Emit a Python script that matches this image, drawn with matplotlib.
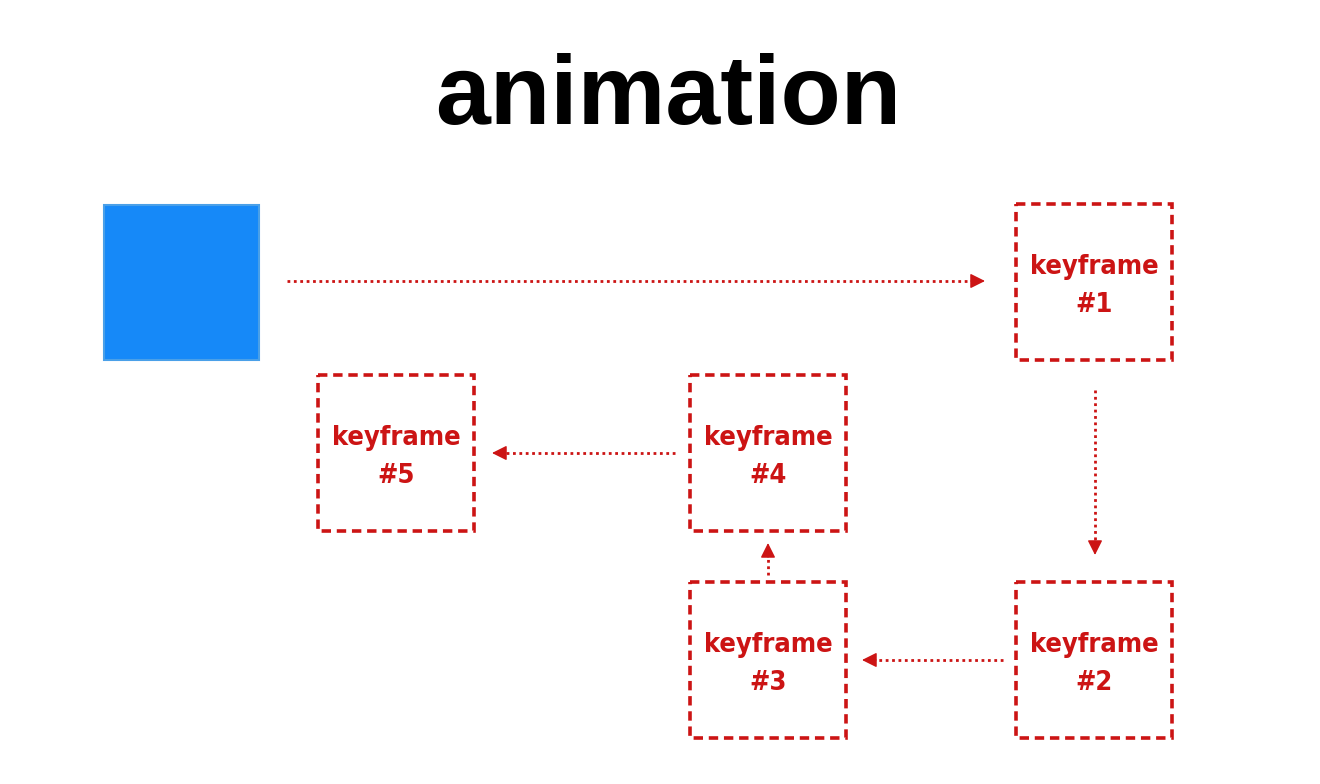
import numpy as np
import matplotlib.pyplot as plt
from matplotlib.patches import Rectangle

# keyframe boxes: label, left, top (pixels), all 156 px square
kf_labels = ['keyframe\n#1', 'keyframe\n#2', 'keyframe\n#3', 'keyframe\n#4', 'keyframe\n#5']
kf_left = [1016, 1016, 690, 690, 318]
kf_top = [204, 582, 582, 375, 375]
box_size = 156

# blue square
sq_left, sq_top, sq_size = 104, 205, 155

# arrows: (x0, y0) -> (x1, y1)
arrow_start = [(287, 281), (1095, 390), (1003, 660), (768, 575), (675, 453)]
arrow_end = [(985, 281), (1095, 555), (862, 660), (768, 543), (492, 453)]

red = '#cc1414'

fig = plt.figure(figsize=(13.2, 7.84), dpi=100)
ax = fig.add_axes([0, 0, 1, 1])
ax.set_xlim(0, 1320)
ax.set_ylim(784, 0)
ax.axis('off')

ax.text(668, 124, 'animation', ha='center', va='baseline', fontsize=71,
        fontweight='bold', family=['Liberation Sans', 'DejaVu Sans'], color='black')

ax.add_patch(Rectangle((sq_left, sq_top), sq_size, sq_size, facecolor='#1689f8',
                       edgecolor='#4aa0e8', linewidth=1.5))

for lab, x, y in zip(kf_labels, kf_left, kf_top):
    ax.add_patch(Rectangle((x, y), box_size, box_size, fill=False, edgecolor=red,
                           linewidth=2.6, linestyle=(0, (2.6, 1.6))))
    ax.text(x + box_size / 2, y + box_size / 2 + 4, lab, ha='center', va='center',
            fontsize=19.5, fontweight='bold', fontstretch='condensed', color=red,
            linespacing=1.58, family='DejaVu Sans')

head = 12
for (x0, y0), (x1, y1) in zip(arrow_start, arrow_end):
    d = np.array([x1 - x0, y1 - y0], dtype=float)
    d /= np.hypot(*d)
    bx, by = x1 - head * d[0], y1 - head * d[1]
    # dotted shaft
    ax.plot([x0, bx], [y0, by], color=red, linewidth=2.0, linestyle=(0, (1, 1.3)),
            solid_capstyle='butt')
    # solid head
    ax.annotate('', xy=(x1, y1), xytext=(bx - 2 * d[0], by - 2 * d[1]),
                arrowprops=dict(arrowstyle='-|>,head_length=0.9,head_width=0.45',
                                color=red, linewidth=1, shrinkA=0, shrinkB=0))

fig.savefig('out.png', dpi=100)
